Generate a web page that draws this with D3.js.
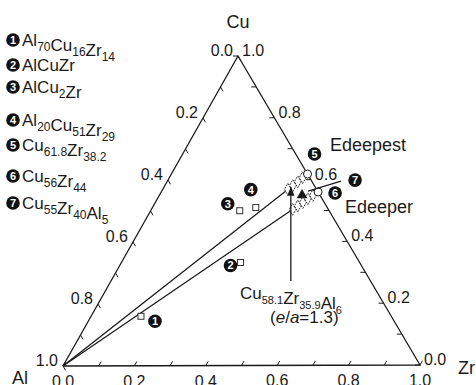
<!DOCTYPE html>
<html>
<head>
<meta charset="utf-8">
<style>
  body { margin: 0; background: #fff; }
  svg { display: block; font-family: "Liberation Sans", Arial, sans-serif; }
</style>
</head>
<body>
<svg id="tern" width="476" height="385"></svg>

<script src="https://d3js.org/d3.v7.min.js"></script>
<script>
    // compositions, at.% (Al, Cu, Zr)
    var ptAl = [70, 33.3, 25, 20, 0, 0, 5]
    var ptCu = [16, 33.3, 50, 51, 61.8, 56, 55]
    var ptZr = [14, 33.4, 25, 29, 38.2, 44, 40]
    var ptShape = ["square", "square", "square", "square", "circle", "circle", "triangle"]
    var legendNames = [
        [["Al", "70"], ["Cu", "16"], ["Zr", "14"]],
        [["AlCuZr", ""]],
        [["AlCu", "2"], ["Zr", ""]],
        [["Al", "20"], ["Cu", "51"], ["Zr", "29"]],
        [["Cu", "61.8"], ["Zr", "38.2"]],
        [["Cu", "56"], ["Zr", "44"]],
        [["Cu", "55"], ["Zr", "40"], ["Al", "5"]]
    ]
    // glass formers on the two cluster lines
    var deepestAl = [2, 4, 6, 8]
    var deepestCu = [60.6, 59.3, 58.1, 56.9]
    var deepestZr = [37.4, 36.7, 35.9, 35.1]
    var deeperAl = [2, 4, 6, 8, 10]
    var deeperCu = [54.9, 53.8, 52.6, 51.5, 50.4]
    var deeperZr = [43.1, 42.2, 41.4, 40.5, 39.6]
    var lineEnds = [4, 5]
    var bestAl = 6, bestCu = 58.1, bestZr = 35.9
    var tickValues = [0, 0.2, 0.4, 0.6, 0.8, 1.0]

    // layout
    var A = [63, 366], C = [238, 56], Z = [420, 365]
    var legendY = [40, 65, 87, 120, 145, 176, 203]
    var badgeDx = [14, -10, -12, -5, 7, 17, 53]
    var badgeDy = [5, 3, -7, -18, -20, 1, -15]
    var ink = "#1a1a1a"

    var svg = d3.select("#tern")

    function proj(al, cu, zr) {
        var s = al + cu + zr
        return [(al * A[0] + cu * C[0] + zr * Z[0]) / s,
                (al * A[1] + cu * C[1] + zr * Z[1]) / s]
    }
    function unit(p, q, len) {
        var dx = q[0] - p[0], dy = q[1] - p[1], d = Math.hypot(dx, dy)
        return [dx / d * len, dy / d * len]
    }

    // frame
    svg.append("path")
        .attr("d", d3.line()([A, Z, C, A]))
        .attr("fill", "none").attr("stroke", ink).attr("stroke-width", 1.3)

    // ticks every 0.1
    var minor = d3.scaleLinear().domain([0, 1]).ticks(10)
    var dBot = unit(A, C, 5), dRight = unit(Z, A, 5), dLeft = unit(C, Z, 5)
    var tickG = svg.append("g").attr("stroke", ink).attr("stroke-width", 1)
    minor.forEach(function(t) {
        var p = proj(1 - t, 0, t)
        tickG.append("line").attr("x1", p[0]).attr("y1", p[1]).attr("x2", p[0] + dBot[0]).attr("y2", p[1] + dBot[1])
        p = proj(0, t, 1 - t)
        tickG.append("line").attr("x1", p[0]).attr("y1", p[1]).attr("x2", p[0] + dRight[0]).attr("y2", p[1] + dRight[1])
        p = proj(t, 1 - t, 0)
        tickG.append("line").attr("x1", p[0]).attr("y1", p[1]).attr("x2", p[0] + dLeft[0]).attr("y2", p[1] + dLeft[1])
    })

    // tick labels
    var fmt = d3.format(".1f")
    var lab = svg.append("g").attr("font-size", 16).attr("fill", ink)
    tickValues.forEach(function(t) {
        var p = proj(1 - t, 0, t)
        lab.append("text").attr("x", p[0]).attr("y", p[1] + 21).attr("text-anchor", "middle").text(fmt(t))
        p = proj(0, t, 1 - t)
        lab.append("text").attr("x", p[0] + 4).attr("y", p[1]).attr("text-anchor", "start").text(fmt(t))
        p = proj(t, 1 - t, 0)
        lab.append("text").attr("x", p[0] - 5).attr("y", p[1]).attr("text-anchor", "end").text(fmt(t))
    })

    // corner names
    var corner = svg.append("g").attr("font-size", 18).attr("fill", ink)
    corner.append("text").attr("x", C[0]).attr("y", 28).attr("text-anchor", "middle").text("Cu")
    corner.append("text").attr("x", 12).attr("y", 384).text("Al")
    corner.append("text").attr("x", 458).attr("y", 374).text("Zr")

    // cluster lines from Al corner
    lineEnds.forEach(function(i) {
        var p = proj(ptAl[i], ptCu[i], ptZr[i])
        svg.append("line").attr("x1", A[0]).attr("y1", A[1]).attr("x2", p[0]).attr("y2", p[1])
            .attr("stroke", ink).attr("stroke-width", 1.3)
    })

    // glass formers (hatched diamonds)
    var diamond = d3.symbol().type(d3.symbolDiamond).size(40)
    function drawDiamonds(al, cu, zr) {
        al.forEach(function(v, i) {
            var p = proj(al[i], cu[i], zr[i])
            svg.append("path").attr("d", diamond())
                .attr("transform", "translate(" + p[0] + "," + p[1] + ")")
                .attr("fill", "#fff").attr("stroke", ink).attr("stroke-width", 0.9)
                .attr("stroke-dasharray", "2,1")
        })
    }
    drawDiamonds(deepestAl, deepestCu, deepestZr)
    drawDiamonds(deeperAl, deeperCu, deeperZr)

    // marked compositions
    ptAl.forEach(function(v, i) {
        var p = proj(ptAl[i], ptCu[i], ptZr[i])
        var g = svg.append("g").attr("transform", "translate(" + p[0] + "," + p[1] + ")")
        if (ptShape[i] == "square")
            g.append("rect").attr("x", -3).attr("y", -3).attr("width", 6).attr("height", 6)
                .attr("fill", "#fff").attr("stroke", ink).attr("stroke-width", 0.9)
        else if (ptShape[i] == "circle")
            g.append("circle").attr("r", 4).attr("fill", "#fff").attr("stroke", ink).attr("stroke-width", 1)
        else
            g.append("path").attr("d", d3.symbol().type(d3.symbolTriangle).size(50)())
                .attr("fill", ink)
    })

    // leader for 7
    var p7 = proj(ptAl[6], ptCu[6], ptZr[6])
    svg.append("line").attr("x1", p7[0] + 6).attr("y1", p7[1] - 4)
        .attr("x2", p7[0] + badgeDx[6] - 14).attr("y2", p7[1] + badgeDy[6] + 1)
        .attr("stroke", ink).attr("stroke-width", 1.1)

    function badge(g, x, y, n) {
        g.append("circle").attr("cx", x).attr("cy", y).attr("r", 6.8).attr("fill", "#111")
        g.append("text").attr("x", x).attr("y", y + 4).attr("text-anchor", "middle")
            .attr("font-size", 11).attr("font-weight", "bold").attr("fill", "#fff").text(n)
    }
    ptAl.forEach(function(v, i) {
        var p = proj(ptAl[i], ptCu[i], ptZr[i])
        badge(svg, p[0] + badgeDx[i], p[1] + badgeDy[i], i + 1)
    })

    // legend
    var leg = svg.append("g")
    legendNames.forEach(function(parts, i) {
        badge(leg, 13, legendY[i], i + 1)
        var t = leg.append("text").attr("x", 22).attr("y", legendY[i] + 6)
            .attr("font-size", 17).attr("fill", ink)
        parts.forEach(function(pt) {
            t.append("tspan").text(pt[0])
            if (pt[1]) {
                t.append("tspan").attr("font-size", 12).attr("dy", 5).text(pt[1])
                t.append("tspan").attr("dy", -5).text("")
            }
        })
    })

    // Edeepest / Edeeper
    svg.append("text").attr("x", 330).attr("y", 151).attr("font-size", 18).attr("fill", ink).text("Edeepest")
    svg.append("text").attr("x", 345).attr("y", 213).attr("font-size", 18).attr("fill", ink).text("Edeeper")

    // e/a = 1.3 composition with arrow
    var pb = proj(bestAl, bestCu, bestZr)
    svg.append("defs").append("marker").attr("id", "head")
        .attr("viewBox", "0 0 10 10").attr("refX", 9).attr("refY", 5)
        .attr("markerWidth", 7).attr("markerHeight", 7).attr("orient", "auto")
        .append("path").attr("d", "M0,1L10,5L0,9Z").attr("fill", ink)
    svg.append("line").attr("x1", pb[0] - 2).attr("y1", 281).attr("x2", pb[0] - 2).attr("y2", pb[1] + 2)
        .attr("stroke", ink).attr("stroke-width", 1.3).attr("marker-end", "url(#head)")

    var note = svg.append("text").attr("x", 240).attr("y", 299).attr("font-size", 17).attr("fill", ink)
    ;[["Cu", "58.1"], ["Zr", "35.9"], ["Al", String(bestAl)]].forEach(function(pt) {
        note.append("tspan").text(pt[0])
        note.append("tspan").attr("font-size", 11).attr("dy", 5).text(pt[1])
        note.append("tspan").attr("dy", -5).text("")
    })
    var ea = svg.append("text").attr("x", 270).attr("y", 323).attr("font-size", 17).attr("fill", ink)
    ea.append("tspan").text("(")
    ea.append("tspan").attr("font-style", "italic").text("e")
    ea.append("tspan").text("/")
    ea.append("tspan").attr("font-style", "italic").text("a")
    ea.append("tspan").text("=1.3)")
</script>
</body>
</html>
